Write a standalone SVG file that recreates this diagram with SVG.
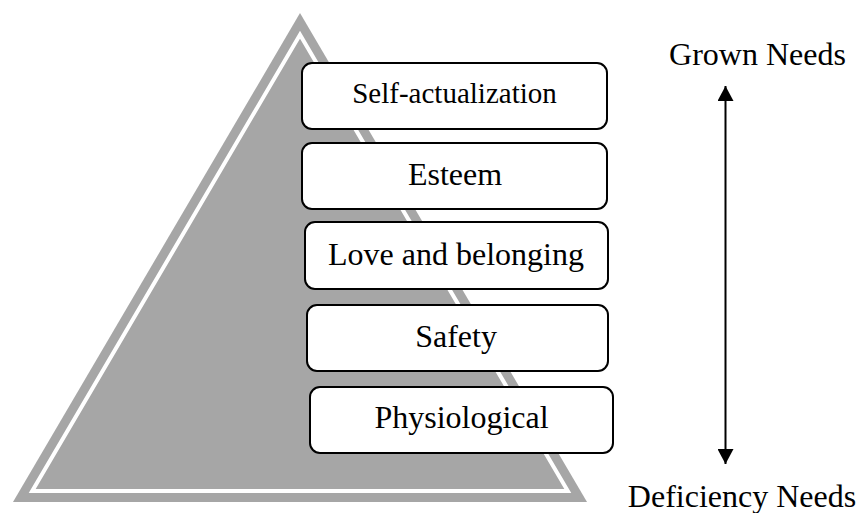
<svg xmlns="http://www.w3.org/2000/svg" width="860" height="513" viewBox="0 0 860 513">
  <defs>
    <style>
      .tri { fill: #a6a6a6; }
      .band { fill: #a6a6a6; stroke: #ffffff; stroke-width: 4; stroke-linejoin: miter; }
      .box { fill: #ffffff; stroke: #000000; stroke-width: 2; }
      .lbl { font-family: "Liberation Serif", "Times New Roman", serif; font-size: 32px; fill: #000000; text-anchor: middle; }
      .conn { stroke: #000000; stroke-width: 2; fill: none; }
    </style>
    <marker id="head" viewBox="0 0 15 16" refX="15" refY="8" markerWidth="15" markerHeight="16" markerUnits="userSpaceOnUse" orient="auto-start-reverse">
      <path d="M0,0 L15,8 L0,16 Z" fill="#000000"/>
    </marker>
  </defs>

  <!-- pyramid background with inset white band -->
  <g id="pyramid">
    <polygon class="tri" points="300,13 13,502 587,502"/>
    <polygon class="band" points="300,34.7 32.2,491 567.8,491"/>
  </g>

  <!-- need levels -->
  <g id="self-actualization">
    <rect class="box" x="302" y="63" width="305" height="66" rx="10" ry="10"/>
    <text class="lbl" x="454.5" y="103" style="font-size:29px">Self-actualization</text>
  </g>
  <g id="esteem">
    <rect class="box" x="302" y="143" width="305" height="66" rx="10" ry="10"/>
    <text class="lbl" x="455" y="185">Esteem</text>
  </g>
  <g id="love-belonging">
    <rect class="box" x="305" y="222" width="303" height="67" rx="10" ry="10"/>
    <text class="lbl" x="456" y="265">Love and belonging</text>
  </g>
  <g id="safety">
    <rect class="box" x="307" y="305" width="301" height="66" rx="10" ry="10"/>
    <text class="lbl" x="456" y="347">Safety</text>
  </g>
  <g id="physiological">
    <rect class="box" x="310" y="387" width="303" height="66" rx="10" ry="10"/>
    <text class="lbl" x="461.5" y="428">Physiological</text>
  </g>

  <!-- axis labels -->
  <g id="grown-needs">
    <text class="lbl" x="757.5" y="65">Grown Needs</text>
  </g>
  <g id="deficiency-needs">
    <text class="lbl" x="742" y="507">Deficiency Needs</text>
  </g>

  <!-- double-headed axis arrow -->
  <g id="connectors">
    <line class="conn" x1="725.5" y1="86" x2="725.5" y2="464" marker-start="url(#head)" marker-end="url(#head)"/>
  </g>
</svg>
